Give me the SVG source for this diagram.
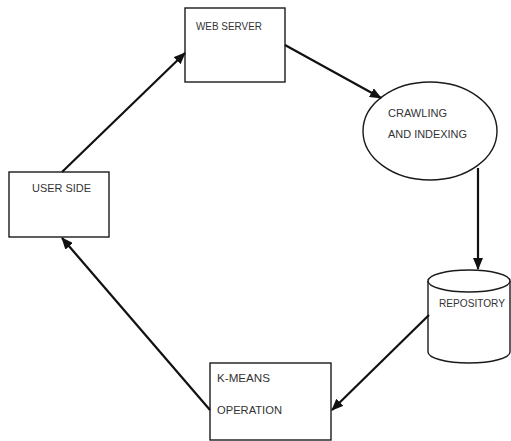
<svg xmlns="http://www.w3.org/2000/svg" width="511" height="441" viewBox="0 0 511 441">
  <style>
    .shape { fill: #ffffff; stroke: #1a1a1a; stroke-width: 1.4; }
    .label { font-family: "Liberation Sans", Arial, sans-serif; font-size: 11px; fill: #333333; }
    .edge { stroke: #111111; stroke-width: 2.2; fill: none; marker-end: url(#arrow); }
  </style>
  <defs>
    <marker id="arrow" markerUnits="userSpaceOnUse" markerWidth="12" markerHeight="10" refX="11" refY="5" orient="auto">
      <path d="M0,0 L12,5 L0,10 Z" fill="#111111"/>
    </marker>
  </defs>
  <rect width="511" height="441" fill="#ffffff"/>

  <g id="web-server">
    <rect class="shape" x="185" y="8" width="100" height="74"/>
    <text class="label" x="196" y="30" textLength="66" lengthAdjust="spacingAndGlyphs">WEB SERVER</text>
  </g>

  <g id="crawling-indexing">
    <ellipse class="shape" cx="430" cy="131" rx="67" ry="49"/>
    <text class="label" x="388" y="117" textLength="59" lengthAdjust="spacingAndGlyphs">CRAWLING</text>
    <text class="label" x="388" y="138" textLength="79" lengthAdjust="spacingAndGlyphs">AND INDEXING</text>
  </g>

  <g id="repository">
    <path class="shape" d="M428,281 L428,352 A41,11 0 0 0 510,352 L510,281"/>
    <ellipse class="shape" cx="469" cy="281" rx="41" ry="11"/>
    <text class="label" x="439" y="307" textLength="66" lengthAdjust="spacingAndGlyphs">REPOSITORY</text>
  </g>

  <g id="k-means">
    <rect class="shape" x="210" y="363" width="121" height="77"/>
    <text class="label" x="217" y="382" textLength="53" lengthAdjust="spacingAndGlyphs">K-MEANS</text>
    <text class="label" x="217" y="414" textLength="65" lengthAdjust="spacingAndGlyphs">OPERATION</text>
  </g>

  <g id="user-side">
    <rect class="shape" x="9" y="172" width="100" height="65"/>
    <text class="label" x="32" y="192" textLength="59" lengthAdjust="spacingAndGlyphs">USER SIDE</text>
  </g>

  <g id="connectors">
    <line class="edge" x1="62" y1="172" x2="185" y2="53"/>
    <line class="edge" x1="285" y1="45" x2="381" y2="98"/>
    <line class="edge" x1="478" y1="168" x2="478" y2="269"/>
    <line class="edge" x1="429" y1="315" x2="332" y2="410"/>
    <line class="edge" x1="210" y1="410" x2="62" y2="238"/>
  </g>
</svg>
